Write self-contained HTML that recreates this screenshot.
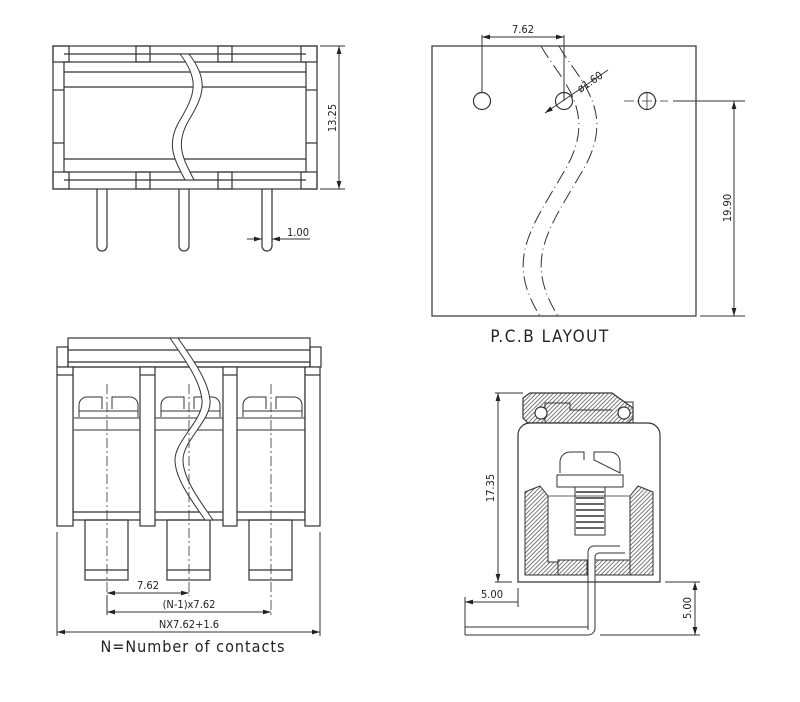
<!DOCTYPE html>
<html><head><meta charset="utf-8"><style>
html,body{margin:0;padding:0;background:#fff;}
svg{display:block;}
text{font-family:"DejaVu Sans Condensed","Liberation Sans",sans-serif;fill:#222;}
</style></head><body>
<svg width="800" height="702" viewBox="0 0 800 702" xmlns="http://www.w3.org/2000/svg">
<defs>
<pattern id="h" patternUnits="userSpaceOnUse" width="3" height="3" patternTransform="rotate(45)">
<rect width="3" height="3" fill="#fff"/><line x1="0" y1="0" x2="0" y2="3" stroke="#444" stroke-width="1.4"/></pattern>
<marker id="a" viewBox="0 0 10 6" refX="10" refY="3" markerWidth="8" markerHeight="5" orient="auto-start-reverse"><path d="M0,0 L10,3 L0,6z" fill="#222"/></marker>
</defs>
<g fill="none" stroke="#333" stroke-width="1.2">
<!-- TOP LEFT VIEW -->
<rect x="53" y="46" width="264" height="143" fill="#fff"/>
<rect x="64" y="62" width="242" height="110"/>
<line x1="64" y1="54" x2="306" y2="54"/>
<line x1="64" y1="180" x2="306" y2="180"/>
<line x1="64" y1="72" x2="306" y2="72"/>
<line x1="64" y1="87" x2="306" y2="87"/>
<line x1="64" y1="159" x2="306" y2="159"/>
<rect x="53" y="46" width="16" height="16"/><rect x="301" y="46" width="16" height="16"/>
<rect x="136" y="46" width="14" height="16"/><rect x="218" y="46" width="14" height="16"/>
<rect x="53" y="172" width="16" height="17"/><rect x="301" y="172" width="16" height="17"/>
<rect x="136" y="172" width="14" height="17"/><rect x="218" y="172" width="14" height="17"/>
<line x1="53" y1="90" x2="64" y2="90"/><line x1="53" y1="143" x2="64" y2="143"/>
<line x1="306" y1="90" x2="317" y2="90"/><line x1="306" y1="143" x2="317" y2="143"/>
<path d="M97,189 V246 a5,5 0 0 0 10,0 V189"/>
<path d="M179,189 V246 a5,5 0 0 0 10,0 V189"/>
<path d="M262,189 V246 a5,5 0 0 0 10,0 V189"/>
<path d="M180,54 C200,80 195,95 180,120 C165,145 175,160 185,180 L194,180 C184,160 174,145 189,120 C204,95 209,80 189,54 Z" fill="#fff" stroke-width="1"/>
<!-- dims -->
<line x1="320" y1="46" x2="345" y2="46" stroke-width="1"/><line x1="320" y1="189" x2="345" y2="189" stroke-width="1"/>
<line x1="339" y1="46" x2="339" y2="189" stroke-width="1" marker-start="url(#a)" marker-end="url(#a)"/>
<line x1="247" y1="239" x2="262" y2="239" stroke-width="1" marker-end="url(#a)"/>
<line x1="310" y1="239" x2="272" y2="239" stroke-width="1" marker-end="url(#a)"/>

<!-- PCB -->
<rect x="432" y="46" width="264" height="270"/>
<circle cx="482" cy="101" r="8.5"/><circle cx="564" cy="101" r="8.5"/><circle cx="647" cy="101" r="8.5"/>
<line x1="482" y1="92" x2="482" y2="35" stroke-width="1"/>
<line x1="564" y1="101" x2="564" y2="35" stroke-width="1"/>
<line x1="482" y1="37" x2="564" y2="37" stroke-width="1" marker-start="url(#a)" marker-end="url(#a)"/>
<line x1="545" y1="113" x2="608" y2="70" stroke-width="1" marker-start="url(#a)"/>
<line x1="624" y1="101" x2="668" y2="101" stroke-width="0.8" stroke-dasharray="10,3,2,3"/>
<line x1="647" y1="92" x2="647" y2="110" stroke-width="0.8"/>
<line x1="673" y1="101" x2="745" y2="101" stroke-width="1"/>
<line x1="700" y1="316" x2="745" y2="316" stroke-width="1"/>
<line x1="734" y1="101" x2="734" y2="316" stroke-width="1" marker-start="url(#a)" marker-end="url(#a)"/>
<path d="M541,46 C560,80 600,110 565,170 C530,230 505,260 540,316" stroke-dasharray="14,4,1,4" stroke-width="1"/>
<path d="M559,46 C578,80 618,110 583,170 C548,230 523,260 558,316" stroke-dasharray="14,4,1,4" stroke-width="1"/>

<!-- BOTTOM LEFT -->
<rect x="68" y="338" width="242" height="29"/>
<line x1="68" y1="350" x2="310" y2="350"/><line x1="68" y1="362" x2="310" y2="362"/>
<rect x="57" y="347" width="11" height="20"/><rect x="310" y="347" width="11" height="20"/>
<rect x="73" y="367" width="232" height="153"/>
<line x1="73" y1="512" x2="305" y2="512"/>
<g stroke-width="1">
<path d="M79,417 V405 a8,8 0 0 1 8,-8 h15 v12 M112,409 v-12 h18 a8,8 0 0 1 8,8 V417"/>
<line x1="79" y1="411" x2="138" y2="411"/>
<path d="M161,417 V405 a8,8 0 0 1 8,-8 h15 v12 M194,409 v-12 h18 a8,8 0 0 1 8,8 V417"/>
<line x1="161" y1="411" x2="220" y2="411"/>
<path d="M243,417 V405 a8,8 0 0 1 8,-8 h15 v12 M276,409 v-12 h18 a8,8 0 0 1 8,8 V417"/>
<line x1="243" y1="411" x2="302" y2="411"/>
<path d="M74,418 H140 M74,430 H140 M155,418 H223 M155,430 H223 M237,418 H305 M237,430 H305"/>
</g>
<rect x="85" y="520" width="43" height="60"/><line x1="85" y1="570" x2="128" y2="570"/>
<rect x="167" y="520" width="43" height="60"/><line x1="167" y1="570" x2="210" y2="570"/>
<rect x="249" y="520" width="43" height="60"/><line x1="249" y1="570" x2="292" y2="570"/>
<rect x="57" y="367" width="16" height="159" fill="#fff"/>
<rect x="140" y="367" width="15" height="159" fill="#fff"/>
<rect x="223" y="367" width="14" height="159" fill="#fff"/>
<rect x="305" y="367" width="15" height="159" fill="#fff"/>
<line x1="140" y1="375" x2="155" y2="375"/><line x1="223" y1="375" x2="237" y2="375"/><line x1="57" y1="375" x2="73" y2="375"/><line x1="305" y1="375" x2="320" y2="375"/>
<path d="M170,338 C185,360 200,380 202,400 C204,420 175,440 175,460 C175,480 195,505 205,520 L213,520 C203,505 183,480 183,460 C183,440 212,420 210,400 C208,380 193,360 178,338 Z" fill="#fff" stroke-width="1"/>
<g stroke-width="0.8" stroke-dasharray="10,3,2,3">
<line x1="107" y1="384" x2="107" y2="596"/><line x1="189" y1="384" x2="189" y2="596"/><line x1="271" y1="384" x2="271" y2="615"/>
</g>
<line x1="107" y1="593" x2="189" y2="593" stroke-width="1" marker-start="url(#a)" marker-end="url(#a)"/>
<line x1="107" y1="596" x2="107" y2="615" stroke-width="1"/>
<line x1="107" y1="612" x2="271" y2="612" stroke-width="1" marker-start="url(#a)" marker-end="url(#a)"/>
<line x1="57" y1="532" x2="57" y2="636" stroke-width="1"/><line x1="320" y1="532" x2="320" y2="636" stroke-width="1"/>
<line x1="57" y1="632" x2="320" y2="632" stroke-width="1" marker-start="url(#a)" marker-end="url(#a)"/>

<!-- BOTTOM RIGHT -->
<path d="M633,423 V402 H620" stroke-width="1"/>
<path d="M530,393 H612 L633,408 V418 L628,423 H528 L523,418 V398 Z" fill="url(#h)"/>
<path d="M545,422 V403 H570 V410 H612" stroke-width="1"/>
<circle cx="541" cy="413" r="6" fill="#fff"/><circle cx="624" cy="413" r="6" fill="#fff"/>
<path d="M518,582 V435 a12,12 0 0 1 12,-12 H648 a12,12 0 0 1 12,12 V582 Z" fill="#fff"/>
<path d="M560,473 V462 a10,10 0 0 1 10,-10 h14 v8 M594,460 v-8 h16 a10,10 0 0 1 10,10 V473 Z" stroke-width="1"/>
<path d="M557,475 H623 V487 H557 Z" stroke-width="1"/>
<path d="M525,575 V492 L540,486 L548,496 V562 H558 V575 Z" fill="url(#h)" stroke-width="1"/>
<path d="M653,575 V492 L638,486 L630,496 V562 H620 V575 Z" fill="url(#h)" stroke-width="1"/>
<rect x="558" y="560" width="29" height="15" fill="url(#h)" stroke-width="1"/>
<rect x="595" y="560" width="35" height="15" fill="url(#h)" stroke-width="1"/>
<path d="M575,487 V535 H605 V487" stroke-width="1"/>
<path d="M576,492 H604 M576,498 H604 M576,504 H604 M576,510 H604 M576,516 H604 M576,522 H604 M576,528 H604" stroke-width="1.6"/>
<path d="M548,496 V560 M630,496 V560 M548,496 H630" stroke-width="0.8"/>
<path d="M588,630 V552 a6,6 0 0 1 6,-6 H620 M595,630 V557 a4,4 0 0 1 4,-4 H625" stroke-width="1"/>
<path d="M465,627 H588 M465,635 H588 a7,7 0 0 0 7,-7 V630" stroke-width="1"/>
<line x1="465" y1="627" x2="465" y2="635" stroke-width="1"/>
<line x1="495" y1="393" x2="523" y2="393" stroke-width="1"/><line x1="495" y1="582" x2="512" y2="582" stroke-width="1"/>
<line x1="498" y1="393" x2="498" y2="582" stroke-width="1" marker-start="url(#a)" marker-end="url(#a)"/>
<line x1="465" y1="597" x2="465" y2="635" stroke-width="1"/><line x1="518" y1="588" x2="518" y2="607" stroke-width="1"/>
<line x1="465" y1="602" x2="518" y2="602" stroke-width="1" marker-start="url(#a)"/>
<line x1="665" y1="582" x2="700" y2="582" stroke-width="1"/><line x1="600" y1="635" x2="700" y2="635" stroke-width="1"/>
<line x1="695" y1="582" x2="695" y2="635" stroke-width="1" marker-start="url(#a)" marker-end="url(#a)"/>
</g>
<g font-size="11">
<text x="336" y="118" transform="rotate(-90 336 118)" text-anchor="middle">13.25</text>
<text x="298" y="236" text-anchor="middle">1.00</text>
<text x="523" y="33" text-anchor="middle">7.62</text>
<text x="592" y="85" transform="rotate(-34 592 85)" text-anchor="middle">ø1.60</text>
<text x="731" y="208" transform="rotate(-90 731 208)" text-anchor="middle">19.90</text>
<text x="148" y="589" text-anchor="middle">7.62</text>
<text x="189" y="608" text-anchor="middle">(N-1)x7.62</text>
<text x="189" y="628" text-anchor="middle">NX7.62+1.6</text>
<text x="494" y="488" transform="rotate(-90 494 488)" text-anchor="middle">17.35</text>
<text x="492" y="598" text-anchor="middle">5.00</text>
<text x="691" y="608" transform="rotate(-90 691 608)" text-anchor="middle">5.00</text>
</g>
<text x="550" y="342" font-size="17" text-anchor="middle" letter-spacing="1.5">P.C.B LAYOUT</text>
<text x="193" y="652" font-size="16" text-anchor="middle" letter-spacing="1">N=Number of contacts</text>
</svg>
</body></html>
